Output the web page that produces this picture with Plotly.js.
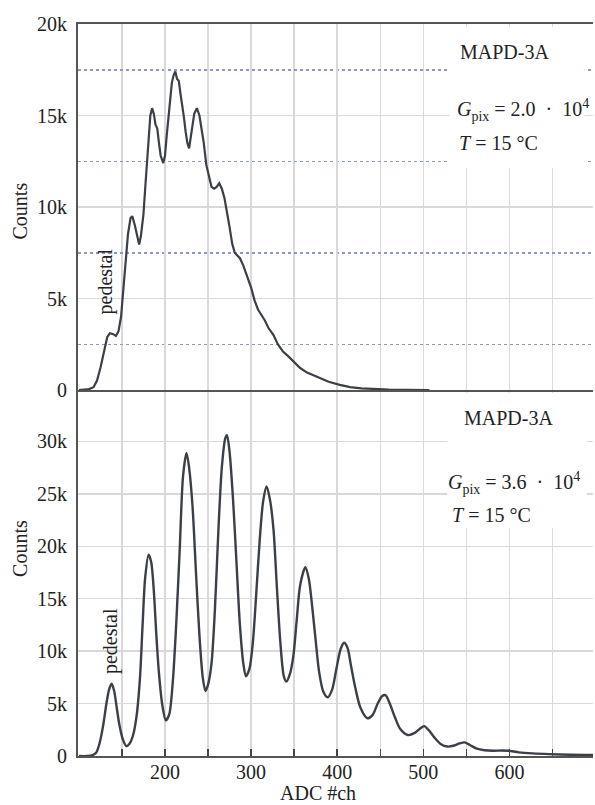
<!DOCTYPE html>
<html>
<head>
<meta charset="utf-8">
<script src="https://cdn.plot.ly/plotly-3.0.1.min.js"></script>
<style>html,body{margin:0;padding:0;background:#fff;}#chart{width:595px;height:805px;}</style>
</head>
<body>
<div id="chart"></div>
<script>
// ---- Data ----
// Top panel: G_pix = 2.0e4
const topX = [100,106,112,117,121,125,129,133,136,140,143,146,149,152,154,157,160,162,165,168,170,172,175,177,179,181,183,185,187,189,191,193,195,198,200,202,204,206,208,210,212,214,216,218,220,222,224,226,228,230,232,234,237,240,242,245,248,251,254,257,260,263,266,269,272,275,278,281,284,287,291,295,300,304,308,312,316,320,326,331,337,343,349,357,365,372,380,390,403,415,428,441,460,480,507];
const topY = [0,20,50,150,500,1200,2000,2900,3100,3050,2950,3200,4000,5800,7200,8500,9400,9500,9000,8300,7950,8400,9600,11000,12400,13800,15000,15400,15100,14500,14300,13500,12800,12400,12800,13900,14900,16000,16800,17200,17400,17000,16900,16200,15600,14900,14100,13500,13200,13900,14600,15100,15400,15000,14400,13500,12300,11600,11100,11000,11100,11300,11000,10500,9800,8900,8000,7500,7350,7200,6800,6300,5600,4900,4400,4100,3800,3400,3000,2500,2100,1850,1550,1200,950,800,620,450,280,160,90,50,20,10,0];

// Bottom panel: G_pix = 3.6e4
const botX = [100,110,116,120,124,128,132,135,138,141,144,147,151,155,159,163,167,171,174,177,181,184,187,190,193,197,201,205,209,213,217,221,225,228,232,236,240,244,247,250,254,258,262,266,270,272,275,279,283,287,291,294,298,302,306,310,314,318,322,326,330,334,338,341,345,349,353,357,363,367,371,375,379,384,389,394,399,404,408,412,416,421,427,435,441,447,452,456,461,467,473,482,490,496,501,507,513,520,528,536,542,548,554,562,571,581,591,599,611,627,646,671,697];
const botY = [0,0,80,300,1200,2800,5000,6300,6900,6200,4600,3000,1600,950,1200,2000,3800,7500,12500,17000,19200,18500,15800,11500,7900,4800,3400,4000,7000,12500,19500,26700,28900,27500,23800,17500,11500,7400,6200,6800,8800,14000,21500,27500,30300,30600,29000,24500,18500,12500,8800,7600,8300,10800,15500,20600,24300,25700,24400,21600,16000,10800,7600,7100,7800,9500,13000,16300,18000,16900,14200,11000,8000,6100,5600,6300,8300,10200,10800,10300,8600,6500,4600,3600,3900,5000,5700,5800,5000,3700,2600,2000,2200,2600,2850,2400,1750,1150,900,1000,1200,1300,1050,700,550,500,520,500,350,250,180,120,100];

// Tick labels
const xTickVals = [200,300,400,500,600];
const xTickText = ['200','300','400','500','600'];
const yTopTickVals = [0,5000,10000,15000,20000];
const yTopTickText = ['0','5k','10k','15k','20k'];
const yBotTickVals = [0,5000,10000,15000,20000,25000,30000];
const yBotTickText = ['0','5k','10k','15k','20k','25k','30k'];

// Texts
const deviceName = 'MAPD-3A';
const gainTop = '<i>G</i><sub>pix</sub> = 2.0\u00A0 \u00B7 \u00A010<sup>4</sup>';
const gainBot = '<i>G</i><sub>pix</sub> = 3.6\u00A0 \u00B7 \u00A010<sup>4</sup>';
const tempText = '<i>T</i> = 15 \u00B0C';
const pedestalText = 'pedestal';
const yTitle = 'Counts';
const xTitle = 'ADC #ch';

// ---- Styles ----
const FONT = 'Liberation Serif, Times New Roman, serif';
const TXT = '#222';
const AXLINE = '#555';
const GRID = '#d9d9d9';
const DOT = '#8c97c6';
const CURVE = '#3b3f46';

const traces = [
  {x: topX, y: topY, xaxis: 'x2', yaxis: 'y2', type: 'scatter', mode: 'lines',
   line: {color: CURVE, width: 2.2}, hoverinfo: 'skip'},
  {x: botX, y: botY, xaxis: 'x', yaxis: 'y', type: 'scatter', mode: 'lines',
   line: {color: CURVE, width: 2.4, shape: 'spline', smoothing: 0.8}, hoverinfo: 'skip'}
];

const xCommon = {
  range: [99, 697], showgrid: true, gridcolor: GRID, gridwidth: 1.5, zeroline: false,
  showline: true, linecolor: AXLINE, linewidth: 2
};

const layout = {
  width: 595, height: 805,
  margin: {l: 78, r: 2, t: 24, b: 49, pad: 0},
  paper_bgcolor: '#fff', plot_bgcolor: '#fff',
  showlegend: false,
  font: {family: FONT, size: 20, color: TXT},
  xaxis: Object.assign({}, xCommon, {
    domain: [0, 1], anchor: 'y',
    tickmode: 'array', tickvals: xTickVals, ticktext: xTickText,
    ticks: 'inside', ticklen: 7, tickwidth: 1.5, tickcolor: '#444',
    ticklabelstandoff: -3,
    tickfont: {family: FONT, size: 20, color: TXT},
    minor: {tickmode: 'linear', tick0: 0, dtick: 50, ticks: 'inside', ticklen: 7,
            tickwidth: 1.5, tickcolor: '#444', showgrid: true, gridcolor: GRID, gridwidth: 1.5}
  }),
  xaxis2: Object.assign({}, xCommon, {
    domain: [0, 1], anchor: 'y2', mirror: true,
    tickmode: 'array', tickvals: xTickVals, showticklabels: false, ticks: '',
    minor: {tickmode: 'linear', tick0: 0, dtick: 50, ticks: '', showgrid: true, gridcolor: GRID, gridwidth: 1.5}
  }),
  yaxis: {
    domain: [0, 0.5], anchor: 'x', range: [0, 34900],
    tickmode: 'array', tickvals: yBotTickVals, ticktext: yBotTickText,
    ticks: '', ticklabelstandoff: 5,
    showgrid: true, gridcolor: GRID, gridwidth: 1.5, zeroline: false,
    showline: true, linecolor: AXLINE, linewidth: 2,
    tickfont: {family: FONT, size: 20, color: TXT}
  },
  yaxis2: {
    domain: [0.5, 1], anchor: 'x2', range: [0, 20000],
    tickmode: 'array', tickvals: yTopTickVals, ticktext: yTopTickText,
    ticks: '', ticklabelstandoff: 5,
    showgrid: true, gridcolor: GRID, gridwidth: 1.5, zeroline: false,
    showline: true, linecolor: AXLINE, linewidth: 2,
    tickfont: {family: FONT, size: 20, color: TXT},
    minor: {tickmode: 'linear', tick0: 0, dtick: 2500, ticks: '', showgrid: true,
            gridcolor: DOT, griddash: 'dot', gridwidth: 1.5}
  },
  shapes: [
    {type: 'rect', xref: 'paper', yref: 'paper', x0: 0.722, x1: 0.984, y0: 0.803, y1: 0.996,
     fillcolor: '#fff', line: {width: 0}, layer: 'above'},
    {type: 'rect', xref: 'paper', yref: 'paper', x0: 0.717, x1: 0.988, y0: 0.311, y1: 0.496,
     fillcolor: '#fff', line: {width: 0}, layer: 'above'}
  ],
  annotations: [
    {text: deviceName, xref: 'paper', yref: 'paper', x: 0.738, y: 0.962, xanchor: 'left', yanchor: 'middle', showarrow: false, font: {size: 20}},
    {text: gainTop, xref: 'paper', yref: 'paper', x: 0.732, y: 0.882, xanchor: 'left', yanchor: 'middle', showarrow: false, font: {size: 20}},
    {text: tempText, xref: 'paper', yref: 'paper', x: 0.736, y: 0.837, xanchor: 'left', yanchor: 'middle', showarrow: false, font: {size: 20}},
    {text: deviceName, xref: 'paper', yref: 'paper', x: 0.746, y: 0.462, xanchor: 'left', yanchor: 'middle', showarrow: false, font: {size: 20}},
    {text: gainBot, xref: 'paper', yref: 'paper', x: 0.715, y: 0.373, xanchor: 'left', yanchor: 'middle', showarrow: false, font: {size: 20}},
    {text: tempText, xref: 'paper', yref: 'paper', x: 0.723, y: 0.329, xanchor: 'left', yanchor: 'middle', showarrow: false, font: {size: 20}},
    {text: pedestalText, xref: 'paper', yref: 'paper', x: 0.054, y: 0.648, xanchor: 'center', yanchor: 'middle', textangle: -90, showarrow: false, font: {size: 20}},
    {text: pedestalText, xref: 'paper', yref: 'paper', x: 0.062, y: 0.157, xanchor: 'center', yanchor: 'middle', textangle: -90, showarrow: false, font: {size: 20}},
    {text: yTitle, xref: 'paper', yref: 'paper', x: -0.113, y: 0.745, xanchor: 'center', yanchor: 'middle', textangle: -90, showarrow: false, font: {size: 20}},
    {text: yTitle, xref: 'paper', yref: 'paper', x: -0.113, y: 0.284, xanchor: 'center', yanchor: 'middle', textangle: -90, showarrow: false, font: {size: 20}},
    {text: xTitle, xref: 'paper', yref: 'paper', x: 0.466, y: -0.051, xanchor: 'center', yanchor: 'middle', showarrow: false, font: {size: 20}}
  ]
};

Plotly.newPlot('chart', traces, layout, {staticPlot: true, displayModeBar: false});
</script>
</body>
</html>
